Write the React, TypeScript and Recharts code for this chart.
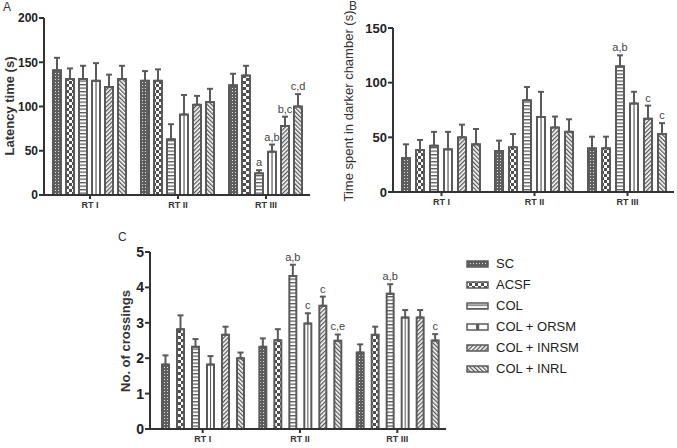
import { BarChart, Bar, XAxis, YAxis, ErrorBar } from 'recharts'

const FONT = '"Liberation Sans", Arial, Helvetica, sans-serif'
const INK = '#5a5a5a'
const AXIS = '#333'

const groups = ['RT I', 'RT II', 'RT III']
const seriesNames = ['SC', 'ACSF', 'COL', 'COL + ORSM', 'COL + INRSM', 'COL + INRL']
const patternIds = ['pSC', 'pACSF', 'pCOL', 'pORSM', 'pINRSM', 'pINRL']

// A - latency time (s), mean and error (SEM) per series, per retention test
const latencyMeans = [
  [141, 129, 124],
  [131, 129, 135],
  [131, 63, 24.5],
  [129, 91, 49],
  [122, 102, 78],
  [131, 105, 100],
]
const latencyErrs = [
  [14, 11, 13],
  [12, 13, 11],
  [15, 17, 3.5],
  [20, 22, 8],
  [14, 10, 10.5],
  [15, 15, 14],
]
const latencyLabels = [
  ['', '', ''],
  ['', '', ''],
  ['', '', 'a'],
  ['', '', 'a,b'],
  ['', '', 'b,c'],
  ['', '', 'c,d'],
]
const latencyTicks = [0, 50, 100, 150, 200]

// B - time spent in darker chamber (s)
const darkMeans = [
  [31, 37.5, 40],
  [38.4, 41, 40],
  [42.4, 84, 115],
  [39, 68.6, 81],
  [50, 59, 67],
  [43.6, 55, 53],
]
const darkErrs = [
  [12.6, 9.5, 10.6],
  [9.2, 12, 10.6],
  [12.6, 12, 10],
  [16, 23, 10.7],
  [11.6, 10, 12],
  [14, 11.5, 10],
]
const darkLabels = [
  ['', '', ''],
  ['', '', ''],
  ['', '', 'a,b'],
  ['', '', ''],
  ['', '', 'c'],
  ['', '', 'c'],
]
const darkTicks = [0, 50, 100, 150]

// C - number of crossings
const crossMeans = [
  [1.82, 2.32, 2.16],
  [2.82, 2.51, 2.66],
  [2.32, 4.32, 3.82],
  [1.82, 2.98, 3.15],
  [2.66, 3.48, 3.15],
  [2.0, 2.49, 2.5],
]
const crossErrs = [
  [0.26, 0.24, 0.23],
  [0.39, 0.31, 0.23],
  [0.22, 0.32, 0.27],
  [0.24, 0.29, 0.21],
  [0.23, 0.26, 0.21],
  [0.16, 0.18, 0.18],
]
const crossLabels = [
  ['', '', ''],
  ['', '', ''],
  ['', 'a,b', 'a,b'],
  ['', 'c', ''],
  ['', 'c', ''],
  ['', 'c,e', 'c'],
]
const crossTicks = [0, 1, 2, 3, 4, 5]

function buildRows(means: number[][], errs: number[][]) {
  return groups.map((g, gi) => {
    const row: any = { group: g }
    means.forEach((m, si) => {
      row['m' + si] = m[gi]
      row['e' + si] = errs[si][gi]
    })
    return row
  })
}

function annotation(labels: string[], means: number[], errs: number[]) {
  return (p: any) => {
    const i = p.index
    const text = labels[i]
    if (!text) return null
    const vb = p.viewBox && p.viewBox.width != null ? p.viewBox : p
    const ppu = vb.height / means[i]
    const yTop = vb.y - errs[i] * ppu
    return (
      <text
        key={'ann' + i}
        x={vb.x + vb.width / 2}
        y={yTop - 4}
        textAnchor="middle"
        fontSize={11}
        fontFamily={FONT}
        fill="#444"
      >
        {text}
      </text>
    )
  }
}

function Patterns() {
  return (
    <svg width={0} height={0} style={{ position: 'absolute' }}>
      <defs>
        <pattern id="pSC" width={3} height={3} patternUnits="userSpaceOnUse">
          <rect width={3} height={3} fill="#5e5e5e" />
          <rect x={1} y={1} width={1} height={1} fill="#e0e0e0" />
        </pattern>
        <pattern id="pACSF" width={6} height={6} patternUnits="userSpaceOnUse">
          <rect width={6} height={6} fill="#fff" />
          <rect width={3} height={3} fill="#4e4e4e" />
          <rect x={3} y={3} width={3} height={3} fill="#4e4e4e" />
        </pattern>
        <pattern id="pCOL" width={3.5} height={3.5} patternUnits="userSpaceOnUse">
          <rect width={3.5} height={3.5} fill="#fff" />
          <rect width={3.5} height={1.3} fill="#5a5a5a" />
        </pattern>
        <pattern id="pORSM" width={1} height={1} patternUnits="objectBoundingBox" patternContentUnits="objectBoundingBox">
          <rect width={1} height={1} fill="#fff" />
          <rect x={0.43} width={0.15} height={1} fill="#5a5a5a" />
        </pattern>
        <pattern id="pINRSM" width={3} height={3} patternUnits="userSpaceOnUse" patternTransform="rotate(45)">
          <rect width={3} height={3} fill="#fff" />
          <rect width={1.3} height={3} fill="#555" />
        </pattern>
        <pattern id="pINRL" width={3} height={3} patternUnits="userSpaceOnUse" patternTransform="rotate(-45)">
          <rect width={3} height={3} fill="#fff" />
          <rect width={1.3} height={3} fill="#555" />
        </pattern>
      </defs>
    </svg>
  )
}

interface PanelProps {
  means: number[][]
  errs: number[][]
  labels: string[][]
  ticks: number[]
  left: number
  top: number
  width: number
  height: number
  marginTop: number
  marginRight: number
  yWidth: number
  xHeight: number
  padLeft: number
  catGap: number
  barGap: number
  tickFont: number
}

function Panel(p: PanelProps) {
  const rows = buildRows(p.means, p.errs)
  return (
    <div style={{ position: 'absolute', left: p.left, top: p.top }}>
      <BarChart
        width={p.width}
        height={p.height}
        data={rows}
        margin={{ top: p.marginTop, right: p.marginRight, left: 0, bottom: 0 }}
        barCategoryGap={p.catGap}
        barGap={p.barGap}
      >
        <XAxis
          dataKey="group"
          height={p.xHeight}
          padding={{ left: p.padLeft, right: 0 }}
          axisLine={{ stroke: AXIS, strokeWidth: 2 }}
          tickLine={{ stroke: AXIS, strokeWidth: 2 }}
          tickSize={4}
          tickMargin={3}
          tick={{ fill: '#333', fontSize: 9, fontWeight: 'bold', fontFamily: FONT }}
        />
        <YAxis
          width={p.yWidth}
          domain={[p.ticks[0], p.ticks[p.ticks.length - 1]]}
          ticks={p.ticks}
          interval={0}
          axisLine={{ stroke: AXIS, strokeWidth: 2 }}
          tickLine={{ stroke: AXIS, strokeWidth: 2 }}
          tickSize={5}
          tickMargin={1}
          tick={{ fill: '#222', fontSize: p.tickFont, fontWeight: 'bold', fontFamily: FONT }}
        />
        {seriesNames.map((name, si) => (
          <Bar
            key={name}
            dataKey={'m' + si}
            name={name}
            fill={`url(#${patternIds[si]})`}
            stroke={INK}
            strokeWidth={2}
            isAnimationActive={false}
            label={annotation(p.labels[si], p.means[si], p.errs[si])}
          >
            <ErrorBar
              dataKey={(row: any) => [0, row['e' + si]]}
              direction="y"
              width={3}
              stroke={INK}
              strokeWidth={2}
              isAnimationActive={false}
            />
          </Bar>
        ))}
      </BarChart>
    </div>
  )
}

function AxisTitle({ text, cx, cy, bold }: { text: string; cx: number; cy: number; bold: boolean }) {
  return (
    <div
      style={{
        position: 'absolute',
        left: cx,
        top: cy,
        transform: 'translate(-50%, -50%) rotate(-90deg)',
        whiteSpace: 'nowrap',
        fontFamily: FONT,
        fontSize: 13,
        fontWeight: bold ? 'bold' : 'normal',
        color: '#333',
        lineHeight: 1,
      }}
    >
      {text}
    </div>
  )
}

function PanelLetter({ text, x, y }: { text: string; x: number; y: number }) {
  return (
    <div style={{ position: 'absolute', left: x, top: y, fontFamily: FONT, fontSize: 12, color: '#333', lineHeight: 1 }}>
      {text}
    </div>
  )
}

export default function App() {
  return (
    <div style={{ position: 'absolute', left: 0, top: 0, width: 677, height: 448, background: '#fff', overflow: 'hidden' }}>
      <Patterns />
      <PanelLetter text="A" x={3} y={1} />
      <PanelLetter text="B" x={349} y={0} />
      <PanelLetter text="C" x={118} y={231} />
      <AxisTitle text="Latency time (s)" cx={9} cy={106} bold />
      <AxisTitle text="Time spent in darker chamber (s)" cx={348} cy={106} bold={false} />
      <AxisTitle text="No. of crossings" cx={125} cy={341} bold />

      <Panel
        means={latencyMeans}
        errs={latencyErrs}
        labels={latencyLabels}
        ticks={latencyTicks}
        left={0}
        top={0}
        width={340}
        height={215}
        marginTop={18}
        marginRight={30}
        yWidth={44}
        xHeight={20}
        padLeft={2}
        catGap={7}
        barGap={5}
        tickFont={12}
      />
      <Panel
        means={darkMeans}
        errs={darkErrs}
        labels={darkLabels}
        ticks={darkTicks}
        left={340}
        top={0}
        width={337}
        height={212}
        marginTop={28}
        marginRight={3}
        yWidth={53}
        xHeight={20}
        padLeft={2}
        catGap={7}
        barGap={6}
        tickFont={13}
      />
      <Panel
        means={crossMeans}
        errs={crossErrs}
        labels={crossLabels}
        ticks={crossTicks}
        left={100}
        top={240}
        width={350}
        height={208}
        marginTop={12}
        marginRight={4}
        yWidth={50}
        xHeight={19}
        padLeft={4}
        catGap={8}
        barGap={8}
        tickFont={14}
      />

      <div style={{ position: 'absolute', left: 466, top: 253 }}>
        {seriesNames.map((name, si) => (
          <div key={name} style={{ display: 'flex', alignItems: 'center', height: 21 }}>
            <svg width={24} height={10} style={{ marginRight: 6 }}>
              <rect x={1} y={2} width={21} height={6} fill={`url(#${patternIds[si]})`} stroke={INK} strokeWidth={1.5} />
            </svg>
            <span style={{ fontFamily: FONT, fontSize: 13, color: '#222' }}>{name}</span>
          </div>
        ))}
      </div>
    </div>
  )
}
